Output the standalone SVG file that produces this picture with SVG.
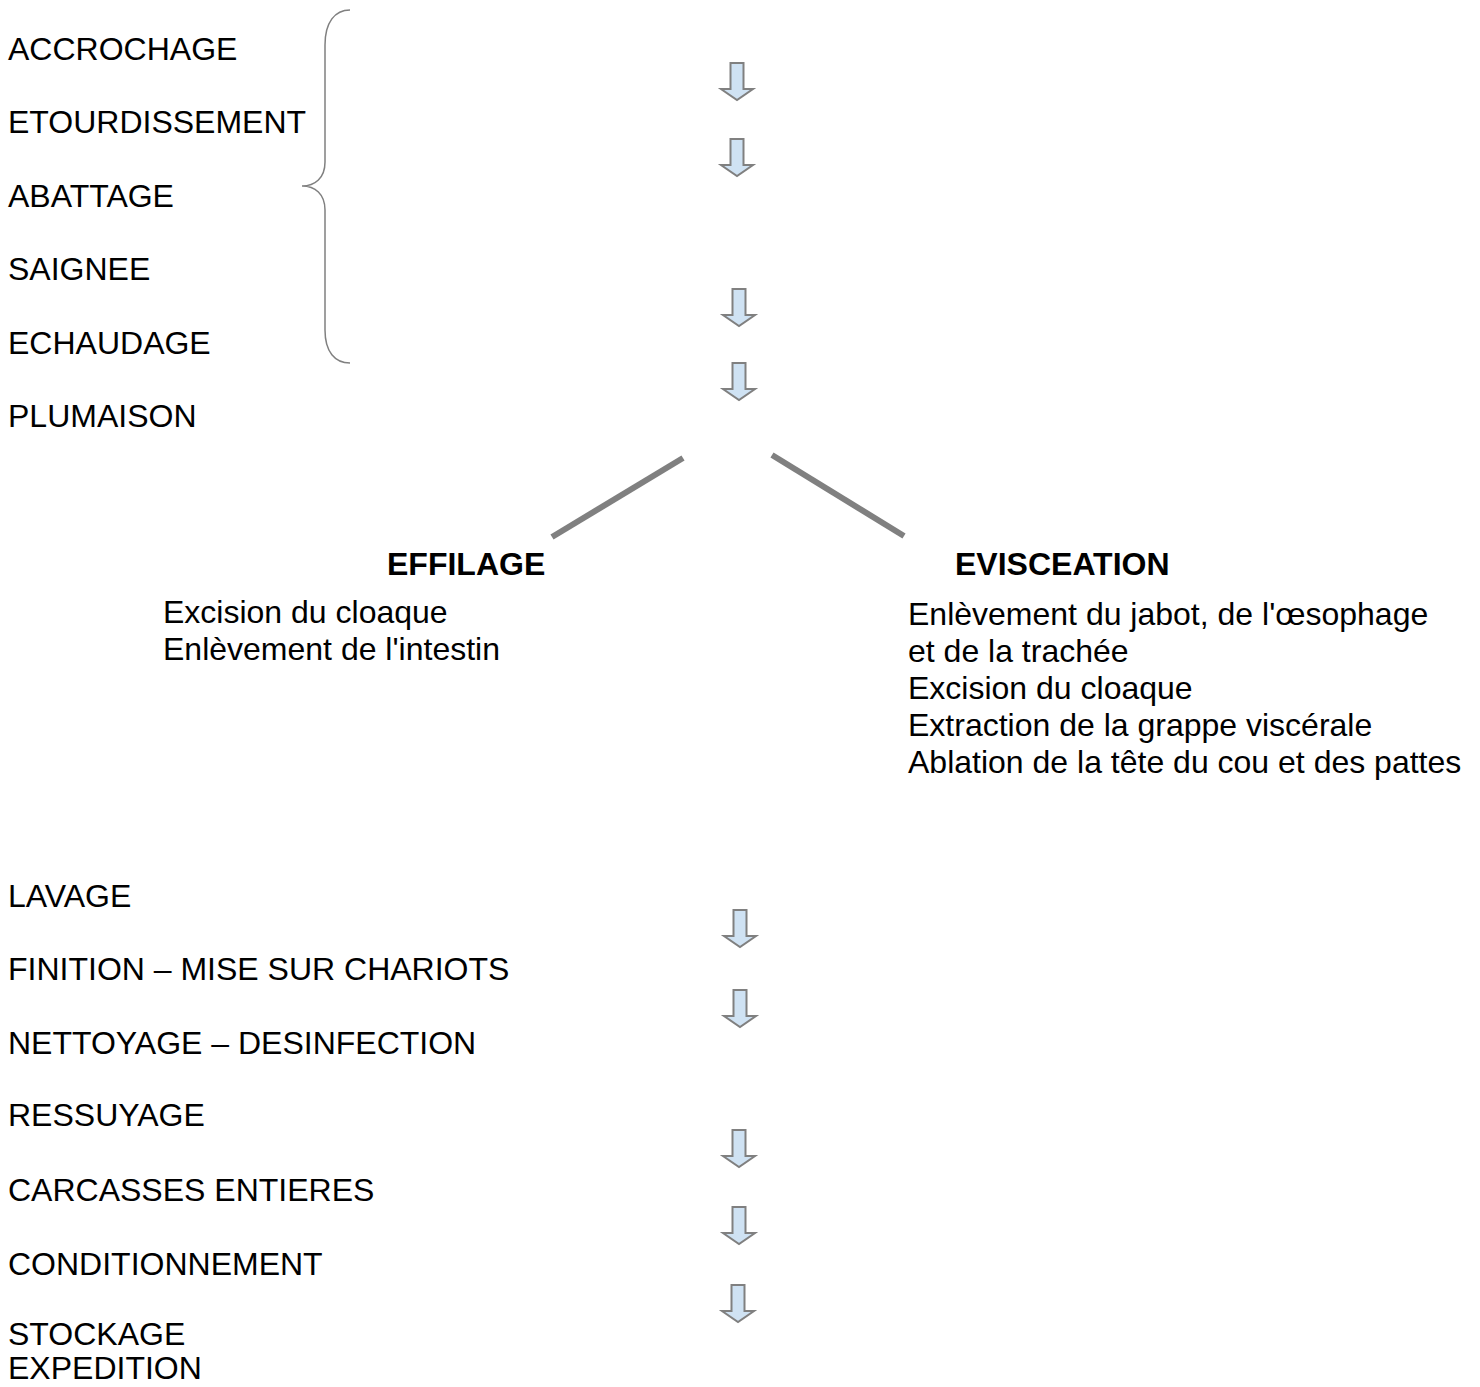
<svg xmlns="http://www.w3.org/2000/svg" xmlns:xlink="http://www.w3.org/1999/xlink" width="1480" height="1387" viewBox="0 0 1480 1387">
<style>
  text { font-family: "Liberation Sans", Arial, sans-serif; font-size: 32px; fill: #000; }
  .b { font-weight: bold; }
  .arrow { fill: #cfe2f3; stroke: #808080; stroke-width: 2; stroke-linejoin: miter; }
  .branch { stroke: #808080; stroke-width: 6; fill: none; }
  .brace { stroke: #808080; stroke-width: 1.5; fill: none; }
</style>
<defs>
  <path id="darrow" class="arrow" d="M-6.5,0 H6.5 V26 H16 L0,37 L-16,26 H-6.5 Z"/>
</defs>
<rect width="1480" height="1387" fill="#fff"/>
<g id="steps-top">
  <text id="accrochage" x="8" y="60">ACCROCHAGE</text>
  <text id="etourdissement" x="8" y="133">ETOURDISSEMENT</text>
  <text id="abattage" x="8" y="207">ABATTAGE</text>
  <text id="saignee" x="8" y="280">SAIGNEE</text>
  <text id="echaudage" x="8" y="354">ECHAUDAGE</text>
  <text id="plumaison" x="8" y="427">PLUMAISON</text>
</g>
<g id="brace">
  <path class="brace" d="M350,10 C335,10 325,22 325,45 V162 C325,178 315,186 302,186 C315,186 325,194 325,210 V330 C325,352 335,363 350,363"/>
</g>
<g id="effilage">
  <text class="b" x="387" y="575">EFFILAGE</text>
  <text x="163" y="623">Excision du cloaque</text>
  <text x="163" y="660">Enlèvement de l'intestin</text>
</g>
<g id="evisceration">
  <text class="b" x="955" y="575">EVISCEATION</text>
  <text x="908" y="625">Enlèvement du jabot, de l'œsophage</text>
  <text x="908" y="662">et de la trachée</text>
  <text x="908" y="699">Excision du cloaque</text>
  <text x="908" y="736">Extraction de la grappe viscérale</text>
  <text x="908" y="773">Ablation de la tête du cou et des pattes</text>
</g>
<g id="steps-bottom">
  <text id="lavage" x="8" y="907">LAVAGE</text>
  <text id="finition" x="8" y="980">FINITION – MISE SUR CHARIOTS</text>
  <text id="nettoyage" x="8" y="1054">NETTOYAGE – DESINFECTION</text>
  <text id="ressuyage" x="8" y="1126">RESSUYAGE</text>
  <text id="carcasses" x="8" y="1201">CARCASSES ENTIERES</text>
  <text id="conditionnement" x="8" y="1275">CONDITIONNEMENT</text>
  <text id="stockage" x="8" y="1345">STOCKAGE</text>
  <text id="expedition" x="8" y="1379">EXPEDITION</text>
</g>
<g id="connectors">
  <use xlink:href="#darrow" href="#darrow" transform="translate(737,63)"/>
  <use xlink:href="#darrow" href="#darrow" transform="translate(737,139)"/>
  <use xlink:href="#darrow" href="#darrow" transform="translate(739,289)"/>
  <use xlink:href="#darrow" href="#darrow" transform="translate(739,363)"/>
  <line class="branch" x1="552" y1="537" x2="683" y2="458"/>
  <line class="branch" x1="772" y1="455" x2="904" y2="536"/>
  <use xlink:href="#darrow" href="#darrow" transform="translate(740,910)"/>
  <use xlink:href="#darrow" href="#darrow" transform="translate(740,990)"/>
  <use xlink:href="#darrow" href="#darrow" transform="translate(739,1130)"/>
  <use xlink:href="#darrow" href="#darrow" transform="translate(739,1207)"/>
  <use xlink:href="#darrow" href="#darrow" transform="translate(738,1285)"/>
</g>
</svg>
